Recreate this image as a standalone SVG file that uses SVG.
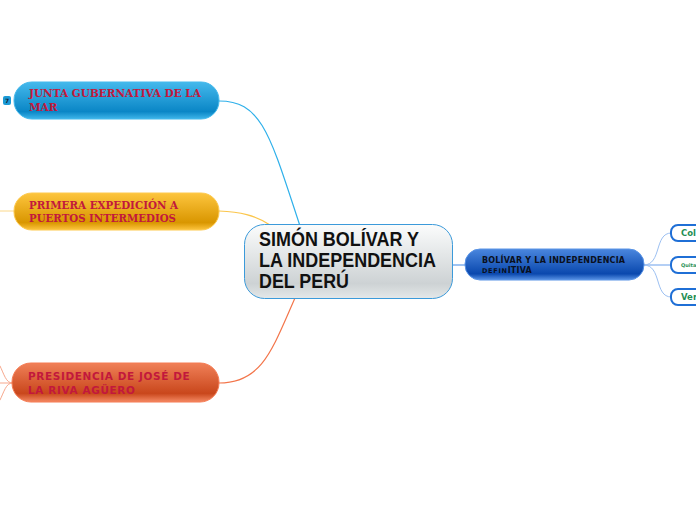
<svg xmlns="http://www.w3.org/2000/svg" width="696" height="520" viewBox="0 0 696 520">
<style>
.serif{font-family:"DejaVu Serif",serif;font-weight:bold;font-size:10.500px;fill:#c2183c}
.sans{font-family:"DejaVu Sans",sans-serif;font-weight:bold}
.pres{font-size:10.500px;letter-spacing:.6px;fill:#c2183c}
.root{font-family:"Liberation Sans",Arial,sans-serif;font-weight:bold;font-size:20.500px;fill:#111}
.line{fill:none;stroke-linecap:round}
.leaf{fill:#fff;stroke:#1f6fd6;stroke-width:2}
.g{fill:#1f8f55}
</style>
<defs>
<linearGradient id="gb" x1="0" y1="0" x2="0" y2="1"><stop offset="0" stop-color="#45b9ec"/><stop offset=".8" stop-color="#0a86c6"/><stop offset="1" stop-color="#3fb6ea"/></linearGradient>
<linearGradient id="gy" x1="0" y1="0" x2="0" y2="1"><stop offset="0" stop-color="#fdc53e"/><stop offset=".8" stop-color="#d99600"/><stop offset="1" stop-color="#fdc53e"/></linearGradient>
<linearGradient id="gr" x1="0" y1="0" x2="0" y2="1"><stop offset="0" stop-color="#f08058"/><stop offset=".78" stop-color="#c9471c"/><stop offset="1" stop-color="#f58a64"/></linearGradient>
<linearGradient id="gc" x1="0" y1="0" x2="0" y2="1"><stop offset="0" stop-color="#fbfcfc"/><stop offset=".8" stop-color="#cdd2d4"/><stop offset="1" stop-color="#e4e8e9"/></linearGradient>
<linearGradient id="gd" x1="0" y1="0" x2="0" y2="1"><stop offset="0" stop-color="#4a86de"/><stop offset=".8" stop-color="#0a48ae"/><stop offset="1" stop-color="#5a94e6"/></linearGradient>
</defs>
<g id="connectors">
<path class="line" stroke="#2fb0ea" stroke-width="1.2" d="M219 101C262 101 270 135 300 226"/>
<path class="line" stroke="#fbc64c" stroke-width="1.2" d="M219 211C240 212 255 215 270 225"/>
<path class="line" stroke="#f3754a" stroke-width="1.2" d="M219 383C262 383 272 350 295 298"/>
<path class="line" stroke="#fbd88a" stroke-width="1" d="M0 211H14"/>
<path class="line" stroke="#f7a78c" stroke-width="1" d="M12 383C6 383 4 374 0 366"/>
<path class="line" stroke="#f7a78c" stroke-width="1" d="M12 383H0"/>
<path class="line" stroke="#f7a78c" stroke-width="1" d="M12 383C6 383 4 392 0 400"/>
<path class="line" stroke="#7fb0ee" stroke-width="1.4" d="M453 265H465"/>
<path class="line" stroke="#9cc0f2" stroke-width="1" d="M644 265C662 265 654 233 671 233"/>
<path class="line" stroke="#9cc0f2" stroke-width="1.4" d="M644 265H671"/>
<path class="line" stroke="#9cc0f2" stroke-width="1" d="M644 265C662 265 654 297 671 297"/>
</g>
<g id="node-marker"><rect x="3" y="96" width="8" height="9" rx="2" fill="#1b9ad6"/><text x="7" y="103" text-anchor="middle" class="sans" font-size="6" fill="#123">7</text></g>
<g id="node-junta"><rect x="14" y="82" width="205" height="37" rx="18" fill="url(#gb)" stroke="#45b9ec"/><text class="serif" x="29" y="97">JUNTA GUBERNATIVA DE LA</text><text class="serif" x="29" y="111">MAR</text></g>
<g id="node-primera"><rect x="14" y="193" width="205" height="37" rx="18" fill="url(#gy)" stroke="#fdc94e"/><text class="serif" x="29" y="209" textLength="149" lengthAdjust="spacingAndGlyphs">PRIMERA EXPEDICIÓN A</text><text class="serif" x="29" y="222" textLength="147" lengthAdjust="spacingAndGlyphs">PUERTOS INTERMEDIOS</text></g>
<g id="node-presidencia"><rect x="12" y="363" width="207" height="39" rx="19" fill="url(#gr)" stroke="#f57a52"/><text class="sans pres" x="28" y="380">PRESIDENCIA DE JOSÉ DE</text><text class="sans pres" x="28" y="394">LA RIVA AGÜERO</text></g>
<g id="node-root"><rect x="244.500" y="224.500" width="208" height="74" rx="20" fill="url(#gc)" stroke="#3b9ada"/><text class="root" x="259" y="246" textLength="160" lengthAdjust="spacingAndGlyphs">SIMÓN BOLÍVAR Y</text><text class="root" x="259" y="267" textLength="177" lengthAdjust="spacingAndGlyphs">LA INDEPENDENCIA</text><text class="root" x="259" y="288" textLength="90" lengthAdjust="spacingAndGlyphs">DEL PERÚ</text></g>
<g id="node-bolivar"><rect x="465" y="249" width="179" height="31" rx="15" fill="url(#gd)" stroke="#5a94e6"/><text class="sans" font-size="8" letter-spacing=".2" fill="#0a1020" x="482" y="263">BOLÍVAR Y LA INDEPENDENCIA</text><text class="sans" font-size="8" letter-spacing=".2" fill="#0a1020" x="482" y="273"><tspan font-size="6.500" letter-spacing=".7">DEFIN</tspan>ITIVA</text></g>
<g id="node-col"><rect class="leaf" x="671" y="225" width="60" height="16" rx="7"/><text class="sans g" font-size="8.500" x="681" y="236">Col</text></g>
<g id="node-quito"><rect class="leaf" x="671" y="257" width="60" height="16" rx="7"/><text class="sans g" font-size="5" x="681" y="267">Quita</text></g>
<g id="node-ver"><rect class="leaf" x="671" y="289" width="60" height="16" rx="7"/><text class="sans g" font-size="8.500" x="681" y="300">Ver</text></g>
</svg>
